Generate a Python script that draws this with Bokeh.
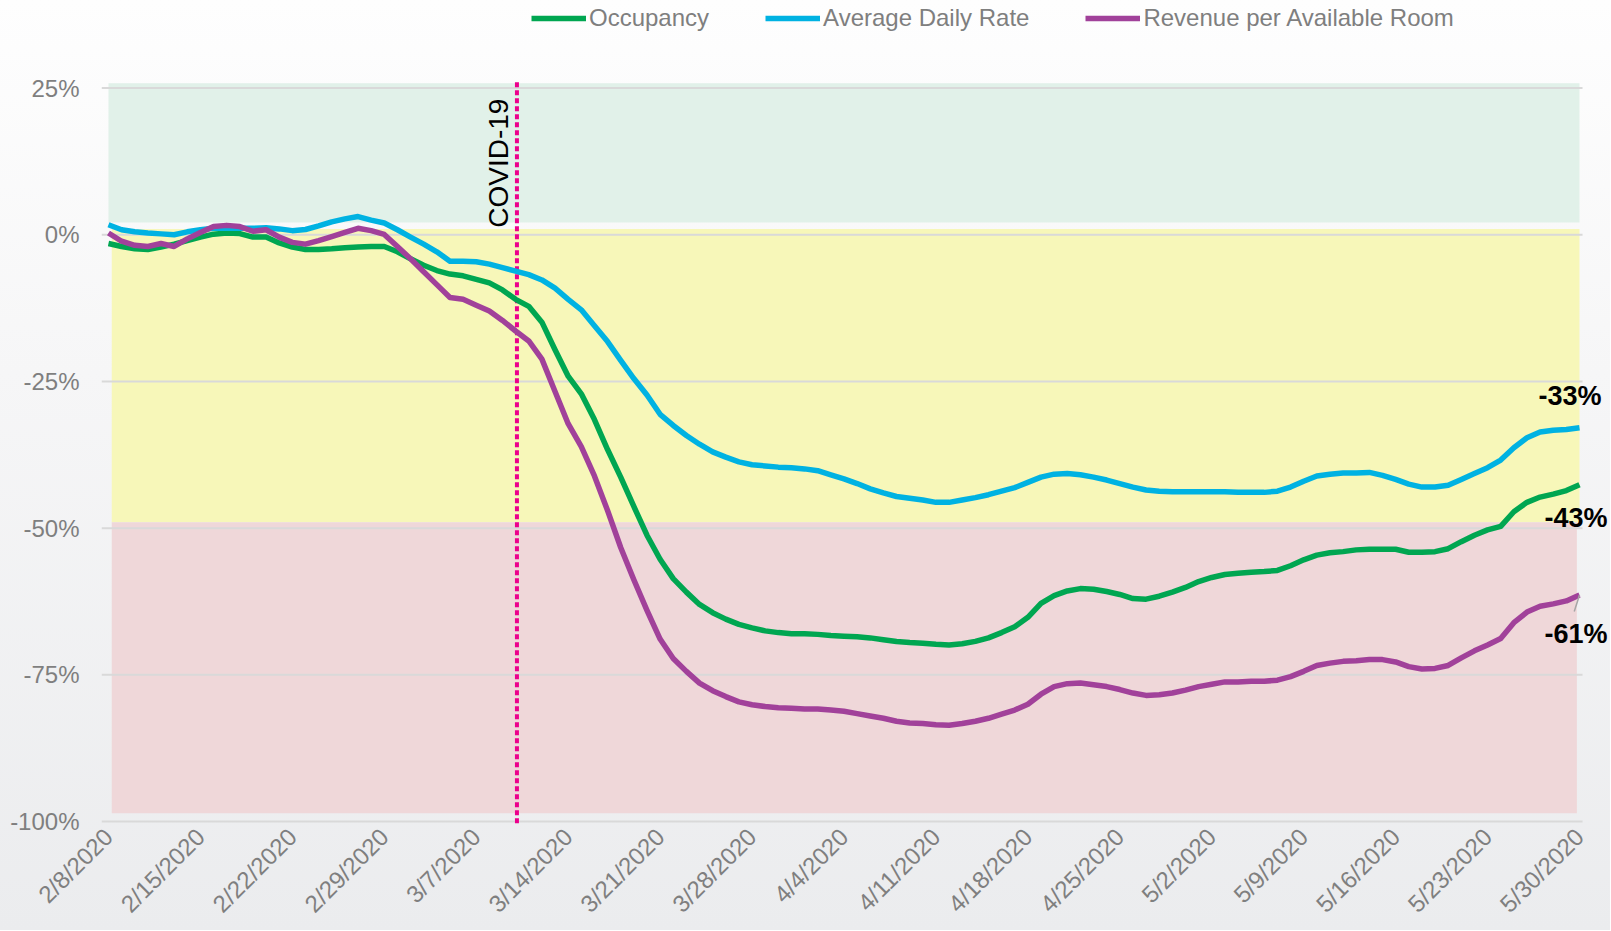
import math
from bokeh.plotting import figure
from bokeh.models import (Range1d, FixedTicker, PrintfTickFormatter, Legend,
                          LegendItem, Label)
from bokeh.embed import file_html
from bokeh.resources import INLINE

# ---------------- data (percent change vs. last year, daily from 2/8/2020) ----------------
days = list(range(113))  # day offset from 2/8/2020

occupancy = [
    -1.5, -2.0, -2.4, -2.5, -2.1, -1.6, -1.0, -0.4, 0.1, 0.3,
    0.2, -0.4, -0.4, -1.4, -2.1, -2.5, -2.5, -2.4, -2.2, -2.1,
    -2.0, -2.0, -2.9, -4.1, -5.2, -6.1, -6.7, -7.0, -7.6, -8.2,
    -9.4, -11.0, -12.2, -14.9, -19.6, -24.1, -27.1, -31.5, -36.6, -41.3,
    -46.3, -51.2, -55.3, -58.6, -60.9, -63.0, -64.4, -65.5, -66.4, -67.0,
    -67.5, -67.8, -68.0, -68.0, -68.1, -68.3, -68.4, -68.5, -68.7, -69.0,
    -69.3, -69.5, -69.6, -69.8, -69.9, -69.7, -69.3, -68.7, -67.8, -66.8,
    -65.2, -62.8, -61.5, -60.7, -60.3, -60.4, -60.8, -61.3, -62.0, -62.1,
    -61.6, -60.9, -60.1, -59.1, -58.4, -57.9, -57.7, -57.5, -57.4, -57.2,
    -56.4, -55.4, -54.6, -54.2, -54.0, -53.7, -53.6, -53.6, -53.6, -54.1,
    -54.1, -54.0, -53.5, -52.3, -51.2, -50.3, -49.7, -47.2, -45.6, -44.7,
    -44.2, -43.6, -42.6,
]

adr = [
    1.7, 0.85, 0.5, 0.3, 0.15, 0.0, 0.5, 0.85, 1.1, 1.1,
    1.1, 1.1, 1.2, 1.0, 0.7, 0.9, 1.5, 2.2, 2.7, 3.1,
    2.5, 2.0, 0.85, -0.4, -1.6, -2.9, -4.5, -4.5, -4.6, -5.0,
    -5.6, -6.2, -6.8, -7.7, -9.1, -11.0, -12.8, -15.5, -18.2, -21.4,
    -24.5, -27.3, -30.6, -32.5, -34.2, -35.7, -37.0, -37.9, -38.7, -39.2,
    -39.4, -39.6, -39.7, -39.9, -40.2, -40.9, -41.6, -42.4, -43.3, -44.0,
    -44.6, -44.9, -45.2, -45.6, -45.6, -45.2, -44.8, -44.3, -43.7, -43.1,
    -42.2, -41.3, -40.8, -40.7, -40.9, -41.3, -41.8, -42.4, -43.0, -43.5,
    -43.7, -43.8, -43.8, -43.8, -43.8, -43.8, -43.9, -43.9, -43.9, -43.7,
    -43.0, -42.0, -41.1, -40.8, -40.6, -40.6, -40.5, -41.0, -41.7, -42.5,
    -43.0, -43.0, -42.7, -41.7, -40.7, -39.7, -38.4, -36.3, -34.6, -33.6,
    -33.3, -33.2, -32.9,
]

revpar = [
    0.3, -1.1, -1.8, -2.0, -1.5, -2.0, -0.7, 0.4, 1.4, 1.6,
    1.4, 0.6, 0.85, -0.4, -1.3, -1.6, -1.0, -0.3, 0.4, 1.1,
    0.7, 0.05, -2.0, -4.1, -6.3, -8.5, -10.7, -11.0, -12.0, -13.0,
    -14.6, -16.4, -18.1, -21.2, -26.7, -32.2, -36.1, -41.1, -47.0, -53.3,
    -58.8, -64.0, -68.9, -72.2, -74.4, -76.4, -77.7, -78.7, -79.6, -80.1,
    -80.4, -80.6, -80.7, -80.8, -80.8, -81.0, -81.2, -81.6, -82.0, -82.4,
    -82.9, -83.2, -83.3, -83.5, -83.6, -83.3, -82.9, -82.4, -81.7, -81.0,
    -80.0, -78.3, -77.0, -76.5, -76.4, -76.7, -77.0, -77.5, -78.1, -78.5,
    -78.4, -78.1, -77.6, -77.0, -76.6, -76.2, -76.2, -76.1, -76.1, -75.9,
    -75.3, -74.4, -73.4, -73.0, -72.7, -72.6, -72.4, -72.4, -72.8, -73.6,
    -74.0, -73.9, -73.4, -72.1, -70.9, -69.9, -68.8, -66.1, -64.3, -63.3,
    -62.9, -62.4, -61.4,
]

tick_days = list(range(0, 113, 7))
tick_labels = ["2/8/2020", "2/15/2020", "2/22/2020", "2/29/2020", "3/7/2020",
               "3/14/2020", "3/21/2020", "3/28/2020", "4/4/2020", "4/11/2020",
               "4/18/2020", "4/25/2020", "5/2/2020", "5/9/2020", "5/16/2020",
               "5/23/2020", "5/30/2020"]
y_ticks = [25, 0, -25, -50, -75, -100]

covid_day = 31.1
covid_text = "COVID-19"

# performance zones (good / neutral / bad)
zone_top = [25.8, 1.0, -49.0]
zone_bottom = [2.1, -49.0, -98.6]
zone_left = [0, 0.25, 0.25]
zone_right = [112, 112, 111.8]
zone_colors = ["#e1f1e9", "#f7f7b9", "#efd7d9"]

# ---------------- figure ----------------
FONT = "Liberation Sans"
GRAY = "#7f7f7f"
X0, XGRID_END = -0.53, 112.23

p = figure(width=1610, height=930, output_backend="svg", toolbar_location=None,
           x_range=Range1d(X0, 114.36), y_range=Range1d(-100.5, 39.92),
           min_border_left=101, min_border_right=0, min_border_top=0,
           min_border_bottom=104)
p.outline_line_color = None
p.background_fill_color = None
p.border_fill_color = None
p.styles = {"background": "linear-gradient(180deg, #fefefe 0%, #f6f6f7 40%, #ebecee 100%)"}

p.quad(left=zone_left, right=zone_right, top=zone_top, bottom=zone_bottom,
       fill_color=zone_colors, line_color=None, level="image")

# horizontal gridlines (stop just after the last date)
p.xgrid.grid_line_color = None
p.ygrid.grid_line_color = None
p.segment(x0=[X0] * len(y_ticks), x1=[XGRID_END] * len(y_ticks), y0=y_ticks, y1=y_ticks,
          line_color="#d9d9d9", line_width=2)

p.xaxis.ticker = FixedTicker(ticks=tick_days)
p.xaxis.major_label_overrides = {d: l for d, l in zip(tick_days, tick_labels)}
p.xaxis.major_label_orientation = math.pi / 4
p.yaxis.ticker = FixedTicker(ticks=y_ticks)
p.yaxis.formatter = PrintfTickFormatter(format="%d%%")
for ax in (p.xaxis, p.yaxis):
    ax.axis_line_color = None
    ax.major_tick_line_color = None
    ax.minor_tick_line_color = None
    ax.major_tick_out = 0
    ax.major_tick_in = 0
    ax.major_label_text_font = FONT
    ax.major_label_text_font_size = "24px"
    ax.major_label_text_color = GRAY
p.yaxis.major_label_standoff = 22
p.xaxis.major_label_standoff = 8

# COVID-19 marker
p.segment(x0=[covid_day], x1=[covid_day], y0=[26], y1=[-100.3],
          line_color="#ec008c", line_width=4, line_dash="5 3")

r_occ = p.line(days, occupancy, line_color="#00a651", line_width=5.5, line_join="round")
r_adr = p.line(days, adr, line_color="#00b2e2", line_width=5.5, line_join="round")
r_rev = p.line(days, revpar, line_color="#a1419a", line_width=5.5, line_join="round")

p.add_layout(Label(x=covid_day, y=1.2, x_offset=-3, angle=math.pi / 2, text=covid_text,
                   text_align="left", text_baseline="bottom", text_font=FONT,
                   text_font_size="28px", text_color="black"))

p.segment(x0=[days[-1]], y0=[revpar[-1]], x1=[days[-1] - 0.4], y1=[revpar[-1] - 2.8],
          line_color="#a6a6a6", line_width=1.5)

for series, dv, dx in ((adr, 5.4, -41), (occupancy, -5.7, -35), (revpar, -6.6, -35)):
    p.add_layout(Label(x=days[-1], y=series[-1] + dv, x_offset=dx,
                       text=f"{round(series[-1])}%", text_align="left",
                       text_baseline="middle", text_font=FONT, text_font_size="27px",
                       text_font_style="bold", text_color="black"))

legend = Legend(items=[LegendItem(label="Occupancy", renderers=[r_occ]),
                       LegendItem(label="Average Daily Rate", renderers=[r_adr]),
                       LegendItem(label="Revenue per Available Room", renderers=[r_rev])],
                orientation="horizontal", location=(430, 792), glyph_width=55,
                glyph_height=22, label_standoff=3, spacing=56, padding=0, margin=0,
                background_fill_alpha=0, border_line_color=None,
                label_text_font=FONT, label_text_font_size="24px",
                label_text_color=GRAY)
p.add_layout(legend)

open("out.html", "w").write(file_html(p, INLINE))
